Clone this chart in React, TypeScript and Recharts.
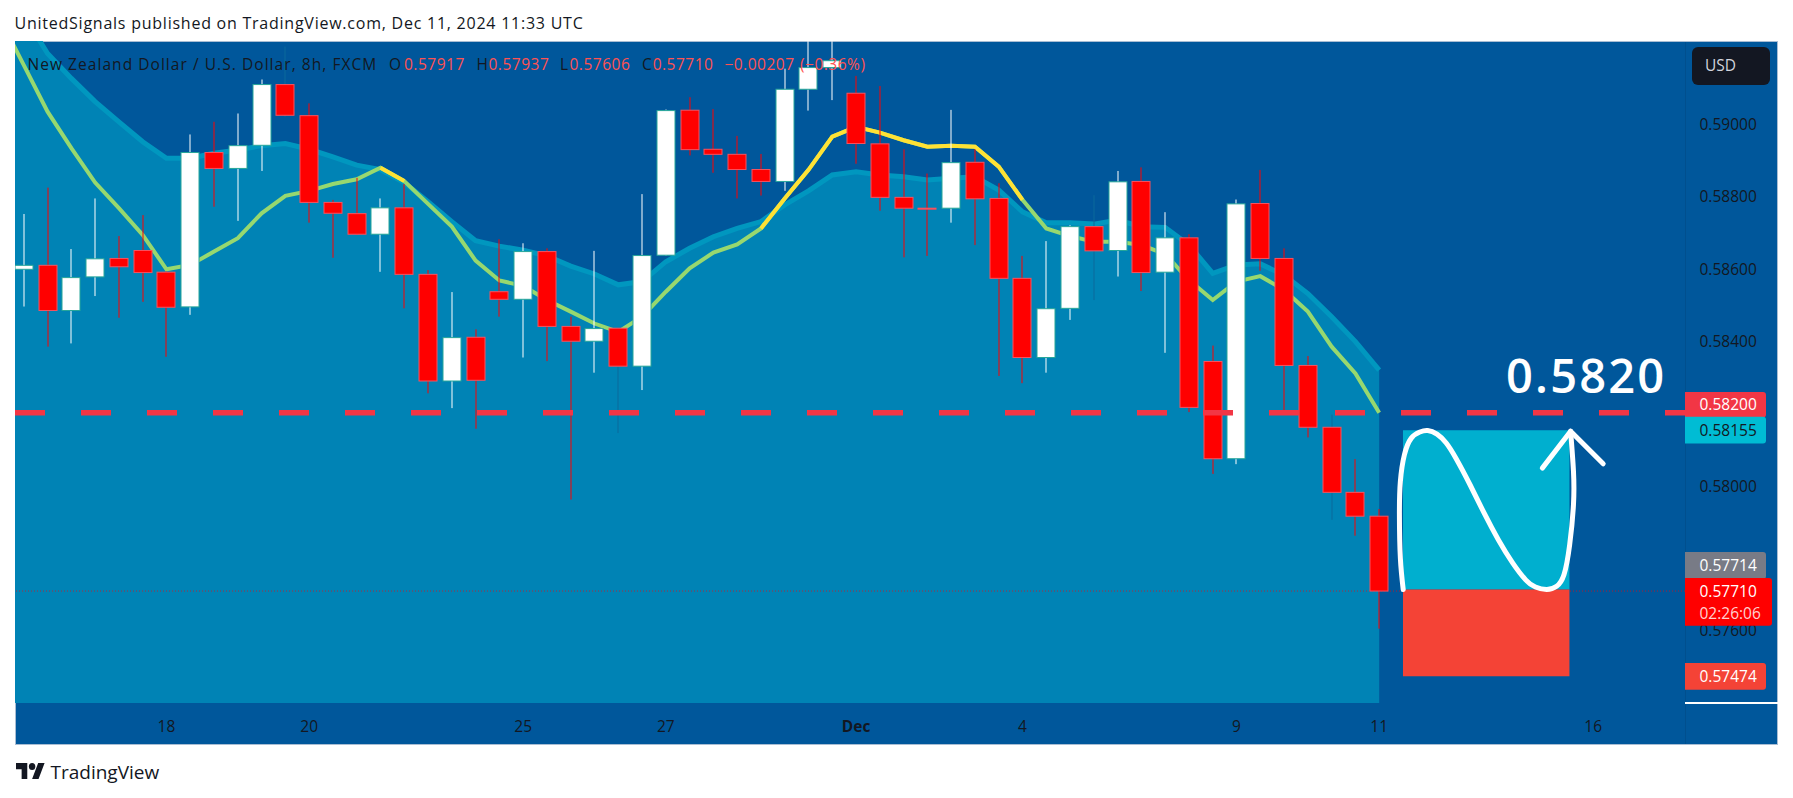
import React from 'react';
import { ComposedChart, Area, Line, Bar, XAxis, YAxis, ReferenceLine, ReferenceArea } from 'recharts';

const opens = [0.58600,0.58611,0.58486,0.58579,0.58630,0.58652,0.58592,0.58496,0.58923,0.58879,0.58943,0.59111,0.59025,0.58785,0.58754,0.58697,0.58770,0.58586,0.58291,0.58412,0.58538,0.58517,0.58649,0.58442,0.58401,0.58437,0.58332,0.58639,0.59040,0.58932,0.58918,0.58876,0.58843,0.59098,0.59158,0.59087,0.58947,0.58799,0.58769,0.58769,0.58896,0.58796,0.58575,0.58356,0.58492,0.58718,0.58652,0.58843,0.58592,0.58687,0.58345,0.58076,0.58782,0.58630,0.58334,0.58163,0.57983,0.57917];
const highs = [0.58753,0.58826,0.58656,0.58796,0.58692,0.58750,0.58594,0.58973,0.59008,0.59031,0.59125,0.59216,0.59059,0.58792,0.58853,0.58796,0.58836,0.58598,0.58537,0.58434,0.58683,0.58672,0.58658,0.58469,0.58651,0.58437,0.58808,0.59042,0.59076,0.59043,0.58969,0.58919,0.59155,0.59231,0.59231,0.59135,0.59107,0.58932,0.58865,0.59041,0.58932,0.58838,0.58637,0.58678,0.58722,0.58805,0.58872,0.58882,0.58758,0.58697,0.58389,0.58793,0.58875,0.58658,0.58360,0.58198,0.58075,0.57937];
const lows = [0.58497,0.58386,0.58395,0.58526,0.58466,0.58510,0.58358,0.58474,0.58773,0.58734,0.58872,0.59022,0.58729,0.58632,0.58695,0.58593,0.58492,0.58257,0.58216,0.58159,0.58469,0.58356,0.58346,0.57963,0.58314,0.58147,0.58266,0.58638,0.58915,0.58867,0.58796,0.58804,0.58817,0.59039,0.59068,0.58892,0.58762,0.58633,0.58637,0.58729,0.58667,0.58305,0.58285,0.58314,0.58460,0.58515,0.58580,0.58540,0.58369,0.58205,0.58034,0.58061,0.58596,0.58207,0.58135,0.57907,0.57863,0.57606];
const closes = [0.58611,0.58486,0.58577,0.58629,0.58607,0.58591,0.58495,0.58923,0.58879,0.58942,0.59111,0.59026,0.58785,0.58755,0.58697,0.58770,0.58586,0.58291,0.58411,0.58293,0.58517,0.58649,0.58442,0.58401,0.58436,0.58332,0.58638,0.59039,0.58931,0.58918,0.58876,0.58843,0.59098,0.59158,0.59177,0.58948,0.58799,0.58769,0.58768,0.58895,0.58795,0.58575,0.58356,0.58491,0.58718,0.58651,0.58842,0.58591,0.58687,0.58218,0.58076,0.58781,0.58630,0.58334,0.58163,0.57983,0.57917,0.57710];
const maLine = [0.59165,0.59036,0.58935,0.58840,0.58769,0.58695,0.58600,0.58612,0.58649,0.58686,0.58755,0.58803,0.58817,0.58836,0.58849,0.58881,0.58844,0.58781,0.58718,0.58624,0.58569,0.58554,0.58515,0.58483,0.58450,0.58427,0.58469,0.58538,0.58603,0.58646,0.58669,0.58713,0.58796,0.58875,0.58967,0.58994,0.58978,0.58957,0.58939,0.58942,0.58939,0.58884,0.58792,0.58713,0.58692,0.58676,0.58676,0.58667,0.58642,0.58570,0.58515,0.58566,0.58581,0.58543,0.58483,0.58386,0.58312,0.58203];
const bandLine = [0.59303,0.59197,0.59128,0.59064,0.59008,0.58953,0.58907,0.58907,0.58921,0.58930,0.58942,0.58948,0.58932,0.58911,0.58888,0.58876,0.58840,0.58787,0.58732,0.58679,0.58664,0.58653,0.58637,0.58609,0.58587,0.58557,0.58566,0.58621,0.58658,0.58690,0.58713,0.58732,0.58778,0.58817,0.58861,0.58870,0.58861,0.58856,0.58847,0.58852,0.58856,0.58819,0.58759,0.58729,0.58729,0.58725,0.58736,0.58718,0.58716,0.58667,0.58589,0.58612,0.58615,0.58584,0.58533,0.58469,0.58400,0.58321];
const leadMa = 0.59293;
const leadBand = 0.59409;
const hotRanges = [[15, 16], [31, 42]];
const dimWicks = [11, 25, 45, 55];

const priceTicks = [0.59, 0.588, 0.586, 0.584, 0.58, 0.576];
const resistance = 0.58203;
const target = 0.58155;
const entry = 0.57714;
const stop = 0.57474;
const lastClose = 0.5771;
const positionStart = 58;
const positionEnd = 65;

const dayTicks = [6, 12, 21, 27, 35, 42, 51, 57, 66];
const dayLabels = ['18', '20', '25', '27', 'Dec', '4', '9', '11', '16'];

const sketchIdx = [58.01,57.89,57.85,57.89,58.06,58.35,58.71,59.04,59.43,59.81,60.22,60.82,61.41,62.01,62.61,63.16,63.57,64.05,64.46,64.77,65.01,65.17,65.17,65.05];
const sketchPrice = [0.57714,0.57801,0.57921,0.58013,0.58087,0.58133,0.58150,0.58154,0.58144,0.58120,0.58078,0.58004,0.57926,0.57852,0.57788,0.57741,0.57721,0.57714,0.57723,0.57755,0.57838,0.57949,0.58041,0.58152];
const arrowIdx = [63.86, 65.05, 66.42];
const arrowPrice = [0.58050, 0.58152, 0.58062];

const rows = [
  { i: -1, ma: leadMa, band: leadBand },
  ...opens.map((open, i) => ({
    i,
    open,
    close: closes[i],
    range: [lows[i], highs[i]],
    band: bandLine[i],
    ma: maLine[i],
    hot: hotRanges.some(([a, b]) => i >= a && i <= b) ? maLine[i] : null,
  })),
];
const sketch = sketchIdx.map((i, k) => ({ i, price: sketchPrice[k] }));
const arrow = arrowIdx.map((i, k) => ({ i, price: arrowPrice[k] }));

const FONT = '"Open Sans", sans-serif';
const INK = '#131722';
const W = 1793, H = 798;
const X_DOMAIN = [-0.37, 69.86];
const Y_DOMAIN = [0.574003, 0.592315];

const tagStyle: Record<string, any> = {
  '0.582': { text: '0.58200', bg: '#F23645', fg: '#fff', top: -22, h: 25.5, tx: -9.5 },
  '0.58155': { text: '0.58155', bg: '#00BCD4', fg: '#131722', top: -13.4, h: 26.8, tx: 0 },
  '0.57714': { text: '0.57714', bg: '#787B86', fg: '#fff', top: -37.6, h: 27, tx: -24 },
  '0.5771': { text: '0.57710', bg: '#FF0000', fg: '#fff', top: -13, h: 47.7, tx: 0, wide: true, sub: '02:26:06' },
  '0.57474': { text: '0.57474', bg: '#F44336', fg: '#fff', top: -13.4, h: 26.8, tx: 0 },
};
const tagOrder = [0.582, 0.58155, 0.57714, 0.5771, 0.57474];

function PriceTick(props: any) {
  const { x, y, payload } = props;
  const tag = tagStyle[String(payload.value)];
  if (!tag) {
    return (
      <text x={x + 14.5} y={y + 5.5} fill={INK} fontFamily={FONT} fontSize={15.5}>
        {payload.value.toFixed(5)}
      </text>
    );
  }
  const w = tag.wide ? 87 : 81;
  return (
    <g>
      <path
        d={`M${x} ${y + tag.top}h${w - 3}a3 3 0 0 1 3 3v${tag.h - 6}a3 3 0 0 1 -3 3h-${w - 3}z`}
        fill={tag.bg}
      />
      <text x={x + 14.5} y={y + tag.tx + 5.5} fill={tag.fg} fontFamily={FONT} fontSize={15.5}>
        {tag.text}
      </text>
      {tag.sub && (
        <text x={x + 14.5} y={y + 27.5} fill="#FFD0D0" fontFamily={FONT} fontSize={15.5}>
          {tag.sub}
        </text>
      )}
    </g>
  );
}

function DayTick(props: any) {
  const { x, y, payload } = props;
  const label = dayLabels[dayTicks.indexOf(payload.value)];
  return (
    <text
      x={x}
      y={y + 27}
      fill={INK}
      textAnchor="middle"
      fontFamily={FONT}
      fontSize={15.5}
      fontWeight={label === 'Dec' ? 700 : 400}
    >
      {label}
    </text>
  );
}

function Candle(props: any) {
  const { x, y, width, height, payload } = props;
  if (!payload || payload.open == null) return null;
  const [low, high] = payload.range;
  const perPrice = Math.abs(height) / (high - low);
  const topP = Math.max(payload.open, payload.close);
  const botP = Math.min(payload.open, payload.close);
  const bodyY = y + (high - topP) * perPrice;
  const bodyH = Math.max((topP - botP) * perPrice, 1);
  const up = payload.close >= payload.open;
  const cx = Math.round(x + width / 2);
  const dim = dimWicks.includes(payload.i);
  const wick = dim ? '#0B6B9C' : up ? '#FFFFFF' : '#FF0000';
  return (
    <g>
      <rect x={cx - 0.5} y={y} width={1} height={Math.abs(height)} fill={wick} />
      <rect
        x={cx - 9}
        y={bodyY}
        width={18}
        height={bodyH}
        fill={up ? '#FFFFFF' : '#FF0000'}
        stroke={up ? '#26A69A' : '#F7525F'}
        strokeWidth={1}
      />
    </g>
  );
}

const legendBits: [string, number, string, number][] = [
  ['New Zealand Dollar / U.S. Dollar, 8h, FXCM', 27.5, INK, 1.05],
  ['O', 389, INK, 0],
  ['0.57917', 404, '#FF5252', 0.5],
  ['H', 476.5, INK, 0],
  ['0.57937', 488.5, '#FF5252', 0.5],
  ['L', 560, INK, 0],
  ['0.57606', 569.5, '#FF5252', 0.5],
  ['C', 642, INK, 0],
  ['0.57710', 652.7, '#FF5252', 0.5],
  ['\u22120.00207', 724.4, '#FF5252', 0.5],
  ['(\u22120.36%)', 800, '#FF5252', 0.5],
];

function abs(left: number, top: number, extra: React.CSSProperties = {}): React.CSSProperties {
  return { position: 'absolute', left, top, whiteSpace: 'nowrap', fontFamily: FONT, lineHeight: 1, ...extra };
}

export default function App() {
  return (
    <div style={{ position: 'absolute', left: 0, top: 0, width: W, height: H, background: '#fff', overflow: 'hidden' }}>
      <div style={abs(14.5, 15, { fontSize: 16, color: INK, letterSpacing: 0.76 })}>
        UnitedSignals published on TradingView.com, Dec 11, 2024 11:33 UTC
      </div>
      <div
        style={{
          position: 'absolute',
          left: 15,
          top: 41,
          width: 1763,
          height: 704,
          background: '#00579B',
          boxSizing: 'border-box',
          border: '1px solid #A9BDD3',
        }}
      />
      <div style={{ position: 'absolute', left: 1685, top: 42, width: 1, height: 702, background: '#004F8E' }} />
      <div style={{ position: 'absolute', left: 0, top: 0 }}>
        <ComposedChart
          width={W}
          height={H}
          data={rows}
          margin={{ top: 41, left: 15, right: 14, bottom: 54 }}
        >
          <XAxis
            dataKey="i"
            type="number"
            scale="linear"
            domain={X_DOMAIN}
            allowDataOverflow
            ticks={dayTicks}
            interval={0}
            height={41}
            axisLine={false}
            tickLine={false}
            tickSize={0}
            tick={<DayTick />}
          />
          <YAxis
            orientation="right"
            type="number"
            domain={Y_DOMAIN}
            allowDataOverflow
            ticks={[...priceTicks, ...tagOrder]}
            interval={0}
            width={94}
            axisLine={false}
            tickLine={false}
            tickSize={0}
            tickMargin={0}
            tick={<PriceTick />}
          />
          <Area
            dataKey="band"
            type="linear"
            baseValue={Y_DOMAIN[0]}
            stroke="#0097BF"
            strokeWidth={5}
            fill="#0083B5"
            fillOpacity={1}
            dot={false}
            activeDot={false}
            isAnimationActive={false}
            zIndex={100}
          />
          <ReferenceLine y={lastClose} stroke="#FF0000" strokeOpacity={0.65} strokeWidth={1} strokeDasharray="1 2" zIndex={120} />
          <ReferenceArea x1={positionStart} x2={positionEnd} y1={entry} y2={target} fill="#00AFCF" fillOpacity={1} stroke="none" zIndex={150} />
          <ReferenceArea x1={positionStart} x2={positionEnd} y1={stop} y2={entry} fill="#F44336" fillOpacity={1} stroke="none" zIndex={150} />
          <Line dataKey="ma" type="linear" stroke="#97D86F" strokeWidth={4} dot={false} activeDot={false} isAnimationActive={false} zIndex={200} />
          <Line dataKey="hot" type="linear" stroke="#FFE135" strokeWidth={4} dot={false} activeDot={false} isAnimationActive={false} zIndex={210} />
          <Bar dataKey="range" barSize={18} shape={<Candle />} isAnimationActive={false} zIndex={300} />
          <ReferenceLine y={resistance} stroke="#F23645" strokeWidth={5.5} strokeDasharray="30 36" strokeDashoffset={10} zIndex={320} />
          <Line data={sketch} dataKey="price" type="natural" stroke="#FFFFFF" strokeWidth={5} strokeLinecap="round" dot={false} activeDot={false} isAnimationActive={false} zIndex={330} />
          <Line data={arrow} dataKey="price" type="linear" stroke="#FFFFFF" strokeWidth={5} strokeLinecap="round" strokeLinejoin="round" dot={false} activeDot={false} isAnimationActive={false} zIndex={330} />
        </ComposedChart>
      </div>
      {legendBits.map(([t, left, color, spacing]) => (
        <div key={t + left} style={abs(left, 57, { fontSize: 15.5, color, letterSpacing: spacing })}>{t}</div>
      ))}
      <div style={abs(1506, 352, { fontSize: 47, fontWeight: 600, color: '#fff', letterSpacing: 2.2 })}>0.5820</div>
      <div
        style={{
          position: 'absolute',
          left: 1691.5,
          top: 47,
          width: 78.5,
          height: 37.5,
          borderRadius: 6,
          background: '#131722',
        }}
      />
      <div style={abs(1705, 57.5, { fontSize: 15.5, color: '#D1D4DC' })}>USD</div>
      <div style={{ position: 'absolute', left: 1685, top: 702, width: 93, height: 1.5, background: '#fff' }} />
      <svg style={{ position: 'absolute', left: 15.5, top: 763 }} width={29} height={16} viewBox="0 4 36 18" preserveAspectRatio="none">
        <path d="M14 22H7V11H0V4h14v18zM28 22h-8l7.5-18h8L28 22z" fill={INK} />
        <circle cx={20} cy={8} r={4} fill={INK} />
      </svg>
      <div style={abs(50.5, 763, { fontSize: 19, color: INK })}>TradingView</div>
    </div>
  );
}
